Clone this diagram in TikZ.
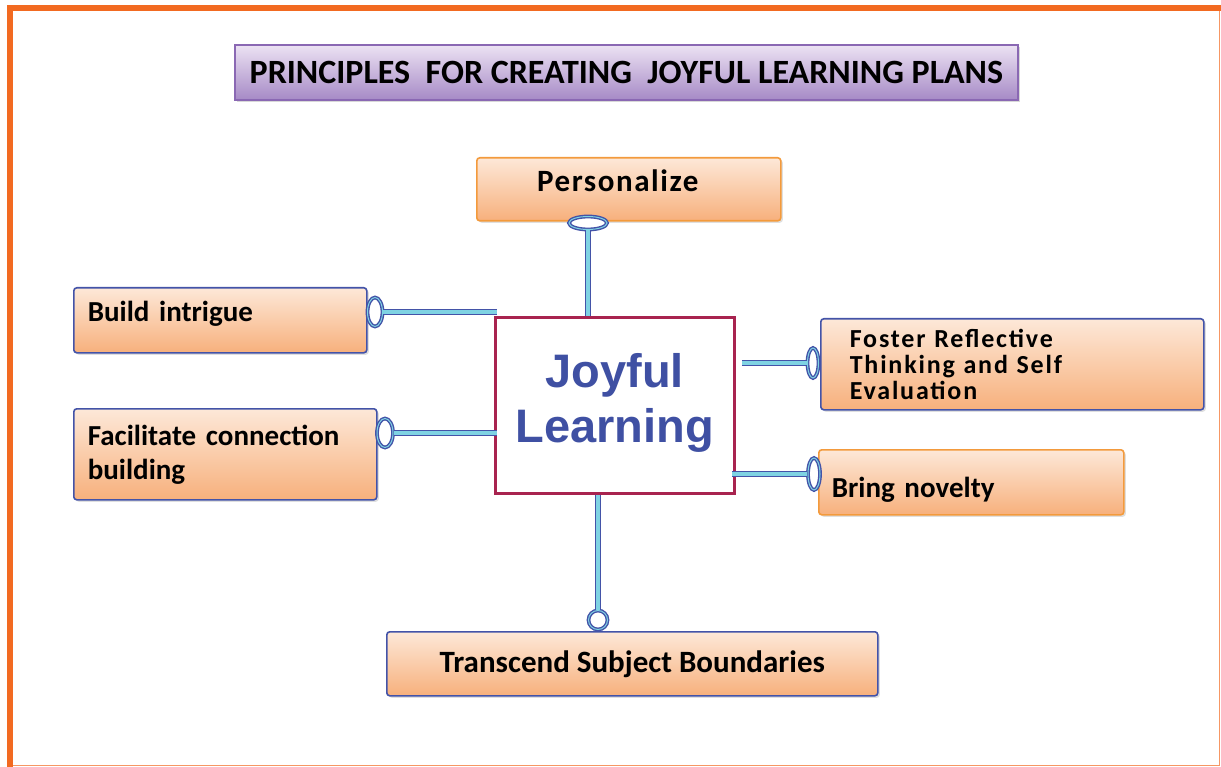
\documentclass[tikz,border=0pt]{standalone}
\usepackage{fontspec}
\setmainfont{Carlito}
\newfontfamily\joyfont{Liberation Sans}
\usepackage{tikz}
\usetikzlibrary{shapes.geometric,shadows}
\definecolor{frameorange}{HTML}{F26A21}
\definecolor{boxblue}{HTML}{4353A8}
\definecolor{boxorange}{HTML}{F39A3C}
\definecolor{peachtop}{HTML}{FDE8D8}
\definecolor{peachbot}{HTML}{F7B07C}
\definecolor{linkcyan}{HTML}{7FD3E3}
\definecolor{joyred}{HTML}{A8234F}
\definecolor{joyblue}{HTML}{3F50A3}
\definecolor{titletop}{HTML}{ECE2F3}
\definecolor{titlebot}{HTML}{A68AC6}
\definecolor{titleline}{HTML}{8A68B3}

\begin{document}
\begin{tikzpicture}[x=1pt,y=-1pt,
	principle/.style={draw=boxblue,line width=1.6pt,rounded corners=3pt,
		top color=peachtop,bottom color=peachbot,
		drop shadow={shadow xshift=2pt,shadow yshift=-2pt,opacity=.25},
		anchor=north west,inner xsep=14pt,inner ysep=0pt,
		font=\bfseries\fontsize{29}{34}\selectfont},
	hub/.style={draw=joyred,line width=2.6pt,fill=white,anchor=north west,
		minimum width=239pt,minimum height=176pt,align=center,text=joyblue,
		font=\joyfont\bfseries\fontsize{47}{55}\selectfont},
	ring/.style={draw=boxblue,line width=1.4pt,double=linkcyan,double distance=1pt,
		fill=white,ellipse,inner sep=0pt},
	link/.style={draw=boxblue,line width=1.2pt,double=linkcyan,double distance=3.2pt}]
	\useasboundingbox (0,0) rectangle (1221,767);
	\fill[white] (0,0) rectangle (1221,767);
	\draw[frameorange!70,line width=1.5pt] (10,765.5) -- (1219.5,765.5) -- (1219.5,8);
	\draw[frameorange,line width=5.5pt] (10,767) -- (10,8) -- (1221,8);

	\node[draw=titleline,line width=1.8pt,top color=titletop,bottom color=titlebot,
		drop shadow={shadow xshift=2pt,shadow yshift=-2pt,opacity=.3},
		anchor=north west,minimum width=783pt,minimum height=55pt,
		font=\bfseries\fontsize{34}{36}\selectfont] (title) at (234,44)
		{PRINCIPLES\ \ FOR CREATING\ \ JOYFUL LEARNING PLANS};

	\node[hub,text depth=14pt] (joy) at (494,316) {Joyful\\Learning};

	\node[principle,draw=boxorange,minimum width=304pt,minimum height=63pt,text depth=17pt,
		font=\bfseries\fontsize{31}{34}\selectfont\addfontfeature{LetterSpace=5}] (pers) at (476,157) {\hspace*{-22pt}Personalize};
	\node[principle,minimum width=293pt,minimum height=65pt,text width=265pt,align=left,text depth=18pt] (intrigue) at (73,287) {Build intrigue};
	\node[principle,minimum width=303pt,minimum height=91pt,text width=275pt,align=left] (facil) at (73,408) {Facilitate connection\\building};
	\node[principle,minimum width=383pt,minimum height=91pt,text width=325pt,inner xsep=29pt,align=left,
		font=\bfseries\fontsize{26}{26}\selectfont\addfontfeature{LetterSpace=7}] (foster) at (820,318) {Foster Reflective\\Thinking and Self\\Evaluation};
	\node[principle,draw=boxorange,minimum width=305pt,minimum height=65pt,text width=279pt,inner xsep=13pt,align=left,text height=36pt] (novel) at (818,449) {Bring novelty};
	\node[principle,minimum width=491pt,minimum height=64pt,font=\bfseries\fontsize{31}{34}\selectfont] (trans) at (386,631) {Transcend Subject Boundaries};

	\node[ring,minimum width=38pt,minimum height=13pt] (rpers) at (588,223) {};
	\node[ring,minimum width=15pt,minimum height=29pt] (rintrigue) at (375,312) {};
	\node[ring,minimum width=16pt,minimum height=29pt] (rfacil) at (385,433) {};
	\node[ring,minimum width=11pt,minimum height=30pt] (rfoster) at (813,363) {};
	\node[ring,minimum width=12pt,minimum height=32pt] (rnovel) at (814,474) {};
	\node[ring,circle,minimum size=19pt] (rtrans) at (598,620) {};

	\draw[link] (rpers.south) -- (rpers.south |- joy.north);
	\draw[link] (rintrigue.east) -- ([xshift=3pt]rintrigue.east -| joy.west);
	\draw[link] (rfacil.east) -- ([xshift=3pt]rfacil.east -| joy.west);
	\draw[link] (rfoster.west) -- ([xshift=6pt]rfoster.west -| joy.east);
	\draw[link] (rnovel.west) -- ([xshift=-4pt]rnovel.west -| joy.east);
	\draw[link] (rtrans.north) -- (rtrans.north |- joy.south);
\end{tikzpicture}
\end{document}
